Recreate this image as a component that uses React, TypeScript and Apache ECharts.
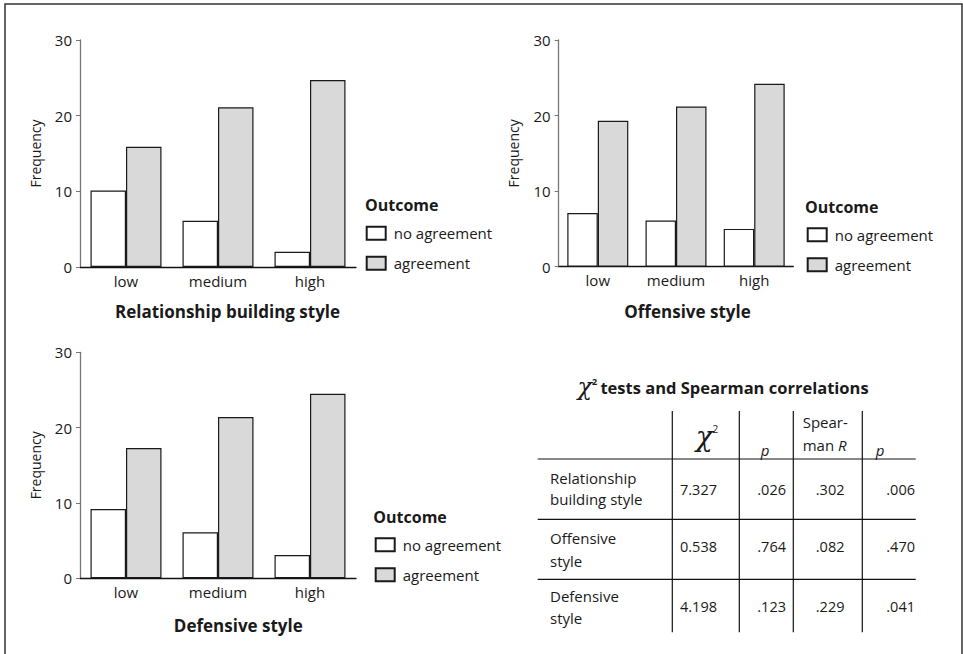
import React, { useEffect, useRef } from "react";
import * as echarts from "echarts";

const categories = ["low", "medium", "high"];
const relNoAgreement = [10.1, 6.1, 2.0];
const relAgreement = [15.9, 21.1, 24.7];
const offNoAgreement = [7.1, 6.1, 5.0];
const offAgreement = [19.3, 21.2, 24.2];
const defNoAgreement = [9.2, 6.1, 3.1];
const defAgreement = [17.3, 21.4, 24.5];
const seriesNames = ["no agreement", "agreement"];
const chartTitles = ["Relationship building style", "Offensive style", "Defensive style"];

const tableRows = [
  ["Relationship", "building style"],
  ["Offensive", "style"],
  ["Defensive", "style"],
];
const chiSquare = ["7.327", "0.538", "4.198"];
const chiP = [".026", ".764", ".123"];
const spearmanR = [".302", ".082", ".229"];
const spearmanP = [".006", ".470", ".041"];

const FONT = "'Open Sans', 'Noto Sans', sans-serif";
const TXT = "#1a1a1a";
const GREY = "#d9d9da";

export default function App() {
  const ref = useRef<HTMLDivElement>(null);
  useEffect(() => {
    if (!ref.current) return;
    const chart = echarts.init(ref.current, null, { renderer: "svg" });

    const grids = [
      { left: 80, top: 40, width: 276, height: 227 },
      { left: 558.7, top: 40, width: 234.6, height: 226.7 },
      { left: 80, top: 352.3, width: 276, height: 226 },
    ];
    const barWidths = [35.5, 30.5, 35.5];
    const dataSets = [
      [relNoAgreement, relAgreement],
      [offNoAgreement, offAgreement],
      [defNoAgreement, defAgreement],
    ];

    const xAxes = grids.map((_, i) => ({
      type: "category",
      gridIndex: i,
      data: categories,
      axisLine: { lineStyle: { color: "#111", width: 1.3 } },
      axisTick: { alignWithLabel: true, length: 4, lineStyle: { color: "#111" } },
      axisLabel: { color: TXT, fontSize: 15, fontFamily: FONT, margin: 6 },
    }));
    const yAxes = grids.map((_, i) => ({
      type: "value",
      gridIndex: i,
      min: 0,
      max: 30,
      interval: 10,
      name: "Frequency",
      nameLocation: "middle",
      nameGap: 38,
      nameTextStyle: { color: TXT, fontSize: 14, fontFamily: FONT },
      splitLine: { show: false },
      axisLine: { show: true, lineStyle: { color: "#777", width: 1.3 } },
      axisTick: { show: true, length: 4, lineStyle: { color: "#777" } },
      axisLabel: { color: TXT, fontSize: 15, fontFamily: FONT, margin: 8 },
    }));

    const series: any[] = [];
    dataSets.forEach((pair, i) => {
      pair.forEach((vals, j) => {
        series.push({
          type: "bar",
          name: seriesNames[j],
          xAxisIndex: i,
          yAxisIndex: i,
          data: vals,
          barWidth: barWidths[i],
          barGap: "0%",
          itemStyle: {
            color: j === 0 ? "#ffffff" : GREY,
            borderColor: "#1a1a1a",
            borderWidth: 1.2,
          },
        });
      });
    });

    const legendPos = [
      { left: 365.7, top: 225.7 },
      { left: 806.7, top: 227.3 },
      { left: 374.7, top: 537.3 },
    ];
    const legends = legendPos.map((p) => ({
      ...p,
      orient: "vertical",
      padding: 0,
      itemWidth: 19,
      itemHeight: 13,
      itemGap: 15,
      icon: "rect",
      data: seriesNames,
      selectedMode: false,
      textStyle: { color: TXT, fontSize: 15, fontFamily: FONT, padding: [0, 0, 0, 3] },
    }));

    const outcomePos = [
      [365, 205],
      [805, 206.7],
      [373.3, 516.7],
    ];
    const titlePos = [
      [227.5, 311.7],
      [687.5, 311.7],
      [238.3, 625],
    ];

    const graphics: any[] = [
      {
        type: "rect",
        shape: { x: 5, y: 4, width: 957, height: 700 },
        style: { fill: "none", stroke: "#333", lineWidth: 1.5 },
      },
    ];
    outcomePos.forEach(([x, y]) =>
      graphics.push({
        type: "text",
        x,
        y,
        style: {
          text: "Outcome",
          font: `bold 16px ${FONT}`,
          fill: TXT,
          textAlign: "left",
          textVerticalAlign: "middle",
        },
      })
    );
    titlePos.forEach(([x, y], i) =>
      graphics.push({
        type: "text",
        x,
        y,
        style: {
          text: chartTitles[i],
          font: `bold 17px ${FONT}`,
          fill: TXT,
          textAlign: "center",
          textVerticalAlign: "middle",
        },
      })
    );

    // Table title
    graphics.push({
      type: "text",
      x: 723,
      y: 387,
      style: {
        text: "{chi|χ}{sup|2} {b|tests and Spearman correlations}",
        textAlign: "center",
        textVerticalAlign: "middle",
        fill: TXT,
        rich: {
          chi: { font: `italic 24px 'DejaVu Serif', serif`, fill: TXT },
          sup: { font: `bold 9px ${FONT}`, fill: TXT, padding: [0, 0, 12, 0] },
          b: { font: `bold 16.5px ${FONT}`, fill: TXT },
        },
      },
    });

    // Table lines
    const colX = [672.3, 739.3, 793.3, 862.3];
    colX.forEach((x) =>
      graphics.push({
        type: "line",
        shape: { x1: x, y1: 411, x2: x, y2: 632.3 },
        style: { stroke: "#111", lineWidth: 1.2 },
      })
    );
    [459, 519.3, 579.3].forEach((y) =>
      graphics.push({
        type: "line",
        shape: { x1: 537.7, y1: y, x2: 915.7, y2: y },
        style: { stroke: "#111", lineWidth: 1.2 },
      })
    );

    const txt = (text: string, x: number, y: number, align = "left", font = `15px ${FONT}`) =>
      graphics.push({
        type: "text",
        x,
        y,
        style: { text, font, fill: TXT, textAlign: align, textVerticalAlign: "middle" },
      });

    // Header
    graphics.push({
      type: "text",
      x: 707,
      y: 436,
      style: {
        text: "{chi|χ}{sup|2}",
        textAlign: "center",
        textVerticalAlign: "middle",
        rich: {
          chi: { font: `italic 28px 'DejaVu Serif', serif`, fill: TXT },
          sup: { font: `10px ${FONT}`, fill: TXT, padding: [0, 0, 14, 0] },
        },
      },
    });
    txt("p", 765, 450, "center", `italic 15px ${FONT}`);
    txt("Spear-", 802.7, 421.7);
    graphics.push({
      type: "text",
      x: 802.7,
      y: 445,
      style: {
        text: "man {i|R}",
        font: `15px ${FONT}`,
        fill: TXT,
        textAlign: "left",
        textVerticalAlign: "middle",
        rich: { i: { font: `italic 15px ${FONT}`, fill: TXT } },
      },
    });
    txt("p", 880, 450, "center", `italic 15px ${FONT}`);

    const rowLine1 = [477.7, 538.3, 596];
    const rowLine2 = [499, 560.7, 618.3];
    const rowVal = [489, 546.7, 606.7];
    const numFont = `14.5px ${FONT}`;
    tableRows.forEach((r, i) => {
      txt(r[0], 550, rowLine1[i]);
      txt(r[1], 550, rowLine2[i]);
      txt(chiSquare[i], 717, rowVal[i], "right", numFont);
      txt(chiP[i], 786, rowVal[i], "right", numFont);
      txt(spearmanR[i], 844.5, rowVal[i], "right", numFont);
      txt(spearmanP[i], 915, rowVal[i], "right", numFont);
    });

    chart.setOption({
      animation: false,
      backgroundColor: "#ffffff",
      textStyle: { fontFamily: FONT },
      grid: grids,
      xAxis: xAxes,
      yAxis: yAxes,
      legend: legends,
      series,
      graphic: graphics,
    });
    return () => chart.dispose();
  }, []);
  return (
    <div
      ref={ref}
      style={{ position: "fixed", left: 0, top: 0, width: 963, height: 654, background: "#fff" }}
    />
  );
}
